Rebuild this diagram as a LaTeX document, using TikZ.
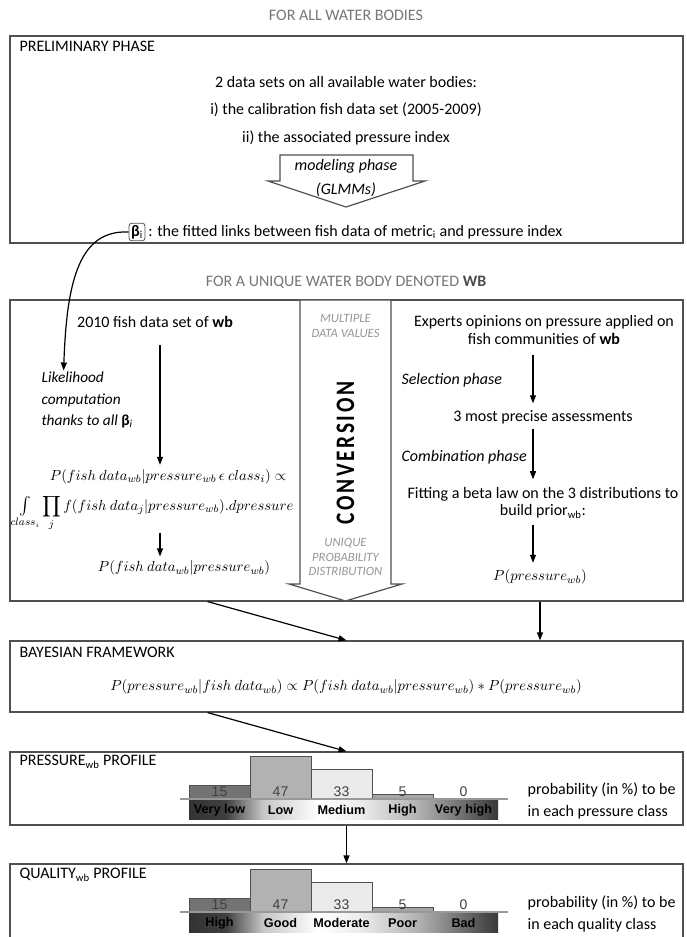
\documentclass[tikz,border=0pt,12pt]{standalone}
\usepackage{amsmath}
\usepackage{fontspec}
\setmainfont{Carlito}
\newfontfamily\chartfont{Liberation Sans}
\newfontfamily\convfont[FakeStretch=0.8,LetterSpace=10]{Carlito}
\usetikzlibrary{
    arrows.meta,
    positioning,
    fit,
    calc
}
\definecolor{headgray}{RGB}{118,118,118}
\definecolor{framegray}{RGB}{80,80,80}
\definecolor{softgray}{RGB}{150,150,150}
\pgfdeclarehorizontalshading{classband}{100bp}{color(0bp)=(black!80); color(25bp)=(black!80);
  color(31bp)=(black!75); color(37bp)=(black!22); color(46bp)=(white); color(53bp)=(black!8);
  color(62bp)=(black!30); color(75bp)=(black!78); color(100bp)=(black!78)}
\newcommand{\classint}{\mathop{\vcenter{\hbox{\scalebox{1.2}{$\textstyle\int$}}}}\limits}
\tikzset{
  panel/.style      = {draw=framegray, line width=0.9pt, inner sep=0pt},
  paneltitle/.style = {anchor=west, inner sep=1pt},
  txt/.style        = {inner sep=1pt, align=center, font=\fontsize{12}{13}\selectfont},
  mathtxt/.style    = {inner sep=1pt, font=\fontsize{11}{13}\selectfont},
  phase/.style      = {anchor=west, inner sep=1pt, font=\itshape},
  grayhead/.style   = {inner sep=1pt, text=headgray},
  smallnote/.style  = {inner sep=1pt, align=center, text=softgray,
                       font=\fontsize{9.5}{11}\selectfont\itshape},
  sidenote/.style   = {anchor=west, inner sep=1pt, align=left,
                       font=\fontsize{12}{16.5}\selectfont},
  betabox/.style    = {draw=framegray, rounded corners=2pt, inner sep=1.5pt, line width=0.6pt},
  bigarrow/.style   = {draw=framegray, line width=0.9pt, fill=white},
  chartnum/.style   = {inner sep=0pt, text=black!75, font=\chartfont\fontsize{10.5}{11}\selectfont},
  chartlab/.style   = {inner sep=0pt, font=\chartfont\bfseries\fontsize{9.5}{10}\selectfont},
  bar/.style        = {draw=framegray, line width=0.5pt},
  baseline/.style   = {draw=black!40, line width=1pt},
  arr/.style        = {-{Triangle[length=6pt,width=4.5pt]}, line width=0.9pt}
}

\begin{document}
\begin{tikzpicture}[x=0.75pt, y=-0.75pt]
  \useasboundingbox (0,0) rectangle (686,937);

  % preliminary phase
  \node[grayhead] (allwb) at (346,15) {FOR ALL WATER BODIES};
  \node[panel, fit={(10,36) (683,243)}] (prelim) {};
  \node[paneltitle] (prelimtitle) at (18,46) {PRELIMINARY PHASE};
  \node[txt] (datasets) at (346,82) {2 data sets on all available water bodies:};
  \node[txt] (calib) at (346,110) {i) the calibration fish data set (2005-2009)};
  \node[txt] (pindex) at (346,138) {ii) the associated pressure index};
  \draw[bigarrow] (280,155) -- (413,155) -- (413,181) -- (425,181) -- (346,207)
        -- (268,181) -- (280,181) -- cycle;
  \node[txt, font=\itshape] (model) at (346,166) {modeling phase};
  \node[txt, font=\itshape] (glmm) at (346,190) {(GLMMs)};
  \node[betabox] (beta) at (137,232) {\textbf{β}\textsubscript{i}};
  \node[right=1pt of beta, inner sep=1pt] (links)
        {: the fitted links between fish data of metric\textsubscript{i} and pressure index};

  % unique water body
  \node[grayhead] (uniquewb) at (346,282)
        {FOR A UNIQUE WATER BODY DENOTED \textcolor{black!70}{\textbf{WB}}};
  \node[panel, fit={(10,300) (683,601)}] (midbox) {};
  \draw[bigarrow] (300,300) -- (391,300) -- (391,584) -- (402,584) -- (345.5,601)
        -- (289,584) -- (300,584) -- cycle;
  \node[smallnote] (multi) at (345.5,326) {MULTIPLE\\DATA VALUES};
  \node[rotate=90, inner sep=0pt, font=\convfont\bfseries\fontsize{20}{20}\selectfont]
        (conv) at (345.5,453) {CONVERSION};
  \node[smallnote] (uniq) at (345.5,557) {UNIQUE\\PROBABILITY\\DISTRIBUTION};

  % likelihood side
  \coordinate (lcol) at (160,0);
  \node[txt] (fish2010) at (155,322) {2010 fish data set of \textbf{wb}};
  \node[phase, align=left, font=\fontsize{11.5}{16}\selectfont\itshape] (likely) at (40,400)
        {Likelihood\\computation\\thanks to all \textbf{\upshape β}\textsubscript{i}};
  \node[mathtxt, anchor=base] (lik1) at (168,480)
        {$P(fish\ data_{wb}|pressure_{wb}\,\epsilon\ class_i)\propto$};
  \node[mathtxt, anchor=base] (lik2) at (152,510)
        {$\displaystyle\classint_{class_i}\prod_j f(fish\ data_j|pressure_{wb}).dpressure$};
  \node[mathtxt] (pfish) at (184,568) {$P(fish\ data_{wb}|pressure_{wb})$};
  \draw[arr, shorten <=12pt, shorten >=2pt] (fish2010.south -| lcol) -- (lik1.north -| lcol);
  \draw[arr, shorten >=2pt] (lik2.south -| lcol) -- (pfish.north -| lcol);
  \draw[arr] (beta.west) -- ++(-6,0)
        .. controls +(-45,2) and +(3,-85) .. ($(likely.north west)!0.25!(likely.north east)$);

  % prior side
  \coordinate (rcol) at (533,0);
  \node[txt] (experts) at (544,330)
        {Experts opinions on pressure applied on\\fish communities of \textbf{wb}};
  \node[phase] (selphase) at (400,380) {Selection phase};
  \node[txt] (precise) at (543,417) {3 most precise assessments};
  \node[phase] (combphase) at (400,457) {Combination phase};
  \node[txt] (fitting) at (543,503)
        {Fitting a beta law on the 3 distributions to\\build prior\textsubscript{wb}:};
  \node[mathtxt] (pprior) at (540,577) {$P(pressure_{wb})$};
  \draw[arr, shorten <=7pt, shorten >=4pt] (experts.south -| rcol) -- (precise.north -| rcol);
  \draw[arr, shorten <=3pt, shorten >=5pt] (precise.south -| rcol) -- (fitting.north -| rcol);
  \draw[arr, shorten <=4pt, shorten >=4pt] (fitting.south -| rcol) -- (pprior.north -| rcol);

  % bayesian framework
  \node[panel, fit={(10,641) (683,712)}] (bayes) {};
  \node[paneltitle] (bayestitle) at (18,652) {BAYESIAN FRAMEWORK};
  \node[mathtxt] (posterior) at (346,687)
        {$P(pressure_{wb}|fish\ data_{wb})\propto P(fish\ data_{wb}|pressure_{wb})\ast P(pressure_{wb})$};
  \draw[arr] ($(midbox.south west)!0.294!(midbox.south east)$) -- (bayes.north);
  \draw[arr] (midbox.south -| pprior) -- (bayes.north -| pprior);

  % pressure profile
  \node[panel, fit={(10,752) (683,825)}] (pprofile) {};
  \node[paneltitle] (ptitle) at (18,762) {PRESSURE\textsubscript{wb} PROFILE};
  \shade[shading=classband] (189,800) rectangle (498,819);
  \foreach \v/\c/\l [count=\i from 0] in
      {15/black!55/Very low, 47/black!30/Low, 33/black!8/Medium, 5/black!35/High, 0/white/Very high} {
    \ifnum\v>0
      \filldraw[bar, fill=\c] ({189+61*\i},799) rectangle ({250+61*\i},{799-0.9*\v});
    \fi
    \node[chartnum] (pn\i) at ({219.5+61*\i},792) {\v};
    \node[chartlab] (pl\i) at ({219.5+61*\i},810) {\l};
  }
  \draw[baseline] (180,799) -- (508,799);
  \node[sidenote] (pprob) at (526,801) {probability (in \%) to be\\in each pressure class};
  \draw[arr] ($(bayes.south west)!0.294!(bayes.south east)$) -- (pprofile.north);

  % quality profile
  \node[panel, fit={(10,864) (683,950)}] (qprofile) {};
  \node[paneltitle] (qtitle) at (18,875) {QUALITY\textsubscript{wb} PROFILE};
  \shade[shading=classband] (189,913) rectangle (498,932);
  \foreach \v/\c/\l [count=\i from 0] in
      {15/black!55/High, 47/black!30/Good, 33/black!8/Moderate, 5/black!35/Poor, 0/white/Bad} {
    \ifnum\v>0
      \filldraw[bar, fill=\c] ({189+61*\i},912) rectangle ({250+61*\i},{912-0.9*\v});
    \fi
    \node[chartnum] (qn\i) at ({219.5+61*\i},905) {\v};
    \node[chartlab] (ql\i) at ({219.5+61*\i},923) {\l};
  }
  \draw[baseline] (180,912) -- (508,912);
  \node[sidenote] (qprob) at (526,914) {probability (in \%) to be\\in each quality class};
  \draw[arr] (pprofile.south) -- (qprofile.north);
\end{tikzpicture}
\end{document}
